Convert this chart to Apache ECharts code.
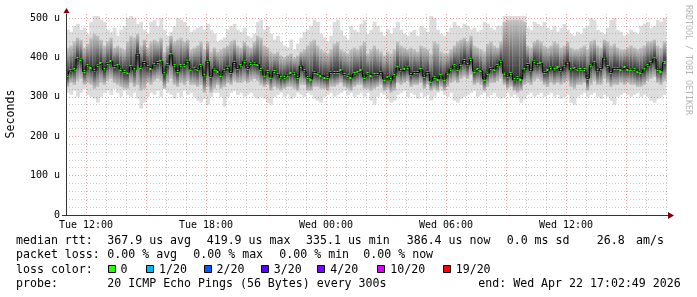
<!DOCTYPE html>
<html><head><meta charset="utf-8">
<script src="https://cdn.jsdelivr.net/npm/echarts@6/dist/echarts.min.js"></script>
<style>html,body{margin:0;padding:0;background:#fff}#c{width:697px;height:297px}</style>
</head><body><div id="c"></div>
<script>
// time axis in hours relative to Tue 12:00; samples every 10 minutes starting Tue 11:00
const sampleStartHour = -1;
const sampleStepHours = 1 / 6;

const medianRtt = [
353,366,370,396,394,364,379,375,366,380,385,368,385,390,377,379,370,364,362,376,368,408,375,387,376,372,381,387,390,358,381,406,379,364,379,380,390,370,372,368,379,353,390,352,370,
365,355,366,375,362,387,372,379,390,372,385,385,382,369,355,364,350,364,356,348,349,355,359,360,349,378,366,349,345,362,358,353,350,348,362,361,362,366,356,353,349,358,362,366,350,
358,355,356,356,362,345,349,343,353,373,366,368,375,356,362,361,368,352,362,340,349,345,353,345,360,370,379,370,383,392,381,395,365,370,366,345,360,372,370,379,390,360,352,359,343,
349,345,368,382,366,390,381,385,362,366,375,368,373,366,376,388,368,372,368,370,368,347,380,386,366,372,398,376,362,372,372,370,373,370,370,368,364,361,368,379,386,396,370,365,387
];
const smokeMax = [
470,465,480,485,470,475,460,490,505,505,495,490,470,465,475,455,470,480,500,505,500,485,490,470,460,490,495,480,500,470,455,465,480,500,495,490,480,465,470,475,480,470,485,470,460,
440,445,450,470,480,485,470,465,475,455,450,460,490,495,470,480,460,445,455,440,430,425,445,420,435,450,465,470,480,495,490,460,450,440,455,490,495,470,455,445,480,470,465,485,495,
460,470,490,480,465,455,470,460,475,490,470,460,455,465,470,455,480,475,465,505,500,470,460,455,465,475,490,480,475,485,480,470,475,465,470,490,485,475,470,480,480,505,505,505,505,
505,505,505,475,470,490,485,480,490,475,470,480,465,475,485,470,460,455,465,460,475,480,500,495,470,465,460,475,495,500,470,465,455,460,470,465,460,480,485,490,475,480,495,490,500
];
const smokeMin = [
310,305,315,300,310,320,305,300,295,285,300,310,315,305,320,310,300,315,305,300,310,295,270,285,300,310,305,315,300,320,310,305,295,310,300,315,305,310,300,290,285,295,280,300,310,
310,300,275,300,310,315,305,310,300,305,310,300,295,300,295,285,280,300,305,310,300,305,295,300,310,305,300,310,305,295,290,285,300,305,310,300,305,310,315,305,310,300,305,310,300,
310,290,280,300,310,305,295,285,290,305,310,315,300,310,305,295,310,300,305,290,300,310,315,305,300,310,290,285,295,300,305,310,315,300,305,310,300,305,310,300,295,300,310,300,305,
300,285,295,305,310,300,305,310,300,305,310,300,305,295,300,305,285,280,300,305,310,300,305,310,300,295,305,300,290,280,300,305,310,305,300,305,310,300,305,300,290,285,295,300,305
];
const smokeHi = [
425,430,440,450,445,425,435,450,460,455,445,430,440,450,425,430,425,420,440,455,450,460,430,445,425,440,445,440,450,415,430,455,440,445,450,440,445,420,425,430,440,420,440,415,425,
415,420,425,430,440,445,430,425,440,430,425,440,455,450,430,425,415,410,415,405,400,405,410,400,405,415,420,430,440,445,430,420,415,410,420,435,440,420,415,410,420,425,420,430,440,
410,420,430,420,415,405,415,410,420,440,430,425,420,425,420,415,430,425,420,410,440,435,415,410,410,420,430,440,445,450,440,455,430,425,420,415,435,440,430,425,440,490,495,495,495,
495,495,490,430,425,440,445,440,430,425,430,440,435,425,430,440,425,420,420,425,430,420,440,445,430,425,445,440,430,435,425,420,420,425,430,425,420,425,430,440,440,445,430,425,440
];
const smokeLo = [
325,335,330,340,345,330,335,330,320,325,335,330,340,345,335,330,325,320,320,335,325,330,315,320,335,330,340,345,340,320,335,345,330,325,335,330,340,330,330,325,330,310,325,310,320,
330,320,325,335,330,340,335,335,340,335,340,345,340,330,325,330,315,325,320,315,320,325,325,320,315,330,330,315,315,325,325,320,320,315,325,325,330,335,325,320,315,325,330,330,320,
320,315,320,325,330,315,320,310,315,335,330,335,340,325,330,330,335,320,330,315,320,315,325,315,325,335,340,335,345,350,345,355,330,335,330,315,325,335,335,340,345,330,320,325,315,
310,315,330,335,330,340,345,340,330,325,335,330,335,330,335,340,325,320,330,330,335,315,330,340,330,330,345,335,325,330,330,335,330,335,330,330,325,325,330,340,345,350,335,330,340
];

const tickHours = [0, 6, 12, 18, 24];
const tickLabels = ['Tue 12:00', 'Tue 18:00', 'Wed 00:00', 'Wed 06:00', 'Wed 12:00'];

const rttStats = ['367.9 us avg', '419.9 us max', '335.1 us min', '386.4 us now', '0.0 ms sd', '26.8', 'am/s'];
const lossStats = ['0.00 % avg', '0.00 % max', '0.00 % min', '0.00 % now'];
const lossLabels = ['0', '1/20', '2/20', '3/20', '4/20', '10/20', '19/20'];
const lossColors = ['#26ff00', '#00b8ff', '#0059ff', '#5e00ff', '#7e00ff', '#dd00ff', '#ff0000'];
const probeText = '20 ICMP Echo Pings (56 Bytes) every 300s';
const endText = 'end: Wed Apr 22 17:02:49 2026';

const sampleTime = i => sampleStartHour + (i + 0.5) * sampleStepHours;
const smokeData = medianRtt.map((m, i) => [sampleTime(i), smokeMin[i], smokeMax[i], smokeLo[i], smokeHi[i], m]);
const medianData = medianRtt.map((m, i) => [sampleTime(i), m]);

const MONO = 'DejaVu Sans Mono';
const gradUp = new echarts.graphic.LinearGradient(0, 0, 0, 1, [
  {offset: 0, color: '#c4c4c4'}, {offset: 0.35, color: '#979797'}, {offset: 0.7, color: '#5c5c5c'}, {offset: 1, color: '#303030'}]);
const gradDown = new echarts.graphic.LinearGradient(0, 0, 0, 1, [
  {offset: 0, color: '#303030'}, {offset: 0.3, color: '#5c5c5c'}, {offset: 0.65, color: '#979797'}, {offset: 1, color: '#c4c4c4'}]);

function smokeItem(params, api) {
  const t = api.value(0), h = sampleStepHours / 2;
  const xL = api.coord([t - h, 0])[0], xR = api.coord([t + h, 0])[0];
  const w = xR - xL + 0.5;
  const yMin = api.coord([t, api.value(1)])[1];
  const yMax = api.coord([t, api.value(2)])[1];
  const yLo = api.coord([t, api.value(3)])[1];
  const yHi = api.coord([t, api.value(4)])[1];
  const yMed = api.coord([t, api.value(5)])[1];
  return {type: 'group', children: [
    {type: 'rect', shape: {x: xL, y: yMax, width: w, height: yMin - yMax}, style: {fill: '#dddddd'}},
    {type: 'rect', shape: {x: xL, y: yHi, width: w, height: yMed - yHi}, style: {fill: gradUp}},
    {type: 'rect', shape: {x: xL, y: yMed, width: w, height: yLo - yMed}, style: {fill: gradDown}}
  ]};
}
function medianItem(params, api) {
  const t = api.value(0), h = sampleStepHours / 2;
  const xL = api.coord([t - h, 0])[0], xR = api.coord([t + h, 0])[0];
  const y = api.coord([t, api.value(1)])[1];
  return {type: 'rect', shape: {x: Math.round(xL) + 0.5, y: Math.round(y - 1.5), width: Math.max(2, Math.round(xR - xL) - 1), height: 3}, style: {fill: lossColors[0]}};
}

const gridGrey = 'rgba(128,128,128,0.42)';
const gridRed = 'rgba(205,0,0,0.36)';

const graphics = [];
function txt(x, y, s, opts) {
  graphics.push(Object.assign({type: 'text', x: x, y: y, style: Object.assign({text: s, fill: '#000', fontFamily: MONO, fontSize: 11.6, verticalAlign: 'middle', align: 'left'}, opts && opts.style || {})}, opts && opts.el || {}));
}
const rttX = [107.3, 206.7, 306, 406.7, 506.7, 596.7, 636];
txt(16, 241, 'median rtt:');
rttStats.forEach((s, i) => txt(rttX[i], 241, s));
const lossX = [107.3, 193.3, 279.3, 363.3];
txt(16, 255.3, 'packet loss:');
lossStats.forEach((s, i) => txt(lossX[i], 255.3, s));
txt(16, 269.5, 'loss color:');
const boxX = [107.5, 146, 203.5, 260.7, 317.3, 377.3, 442.7];
lossLabels.forEach((s, i) => {
  graphics.push({type: 'rect', shape: {x: Math.round(boxX[i]) + 0.5, y: 265.5, width: 7, height: 7}, style: {fill: lossColors[i], stroke: '#000', lineWidth: 1}});
  txt(boxX[i] + 13, 269.5, s);
});
txt(16, 283.7, 'probe:');
txt(107.3, 283.7, probeText);
txt(478.3, 283.7, endText);
txt(11, 114, 'Seconds', {el: {rotation: Math.PI / 2}, style: {align: 'center'}});
txt(688, 5, 'RRDTOOL / TOBI OETIKER', {el: {rotation: -Math.PI / 2}, style: {fontSize: 8.3, fill: '#b4b4b4'}});
graphics.push({type: 'polygon', shape: {points: [[63.5, 13], [69.5, 13], [66.5, 8]]}, style: {fill: '#7f0000'}, z: 10});
graphics.push({type: 'polygon', shape: {points: [[668, 212], [668, 219], [674, 215.5]]}, style: {fill: '#7f0000'}, z: 10});
graphics.push({type: 'line', shape: {x1: 62, y1: 215.5, x2: 66, y2: 215.5}, style: {stroke: '#333', lineWidth: 1}, z: 10});

const chart = echarts.init(document.getElementById('c'), null, {renderer: 'canvas'});
chart.setOption({
  animation: false,
  backgroundColor: '#ffffff',
  grid: {left: 66, top: 14, width: 602, height: 201, containLabel: false},
  xAxis: {
    type: 'value', min: -1, max: 29.1, interval: 1, z: 5,
    axisLine: {show: true, onZero: false, lineStyle: {color: '#333', width: 1}},
    axisTick: {show: false},
    axisLabel: {margin: 5, fontFamily: MONO, fontSize: 10, color: '#000', hideOverlap: false,
      formatter: v => { const k = tickHours.indexOf(Math.round(v * 1000) / 1000); return k >= 0 ? tickLabels[k] : ''; }},
    splitLine: {show: true, showMaxLine: false, lineStyle: {color: [gridGrey, gridRed, gridGrey], type: [1, 2], width: 1}}
  },
  yAxis: {
    type: 'value', min: 0, max: 510, interval: 20, z: 5,
    axisLine: {show: true, onZero: false, lineStyle: {color: '#333', width: 1}},
    axisTick: {show: false},
    axisLabel: {margin: 6, fontFamily: MONO, fontSize: 10, color: '#000',
      formatter: v => (v % 100 === 0 ? (v === 0 ? '0' : v + ' u') : '')},
    splitLine: {show: true, showMinLine: true, showMaxLine: false, lineStyle: {color: [gridRed, gridGrey, gridGrey, gridGrey, gridGrey], type: [1, 2], width: 1}}
  },
  series: [
    {type: 'custom', name: 'smoke', data: smokeData, renderItem: smokeItem, clip: true, encode: {x: 0, y: [1, 2]}, silent: true},
    {type: 'line', name: 'median', data: medianData, step: 'middle', symbol: 'none', lineStyle: {color: '#000', width: 1}, silent: true},
    {type: 'custom', name: 'median loss 0', data: medianData, renderItem: medianItem, clip: true, encode: {x: 0, y: 1}, silent: true}
  ],
  graphic: graphics
});
</script></body></html>
